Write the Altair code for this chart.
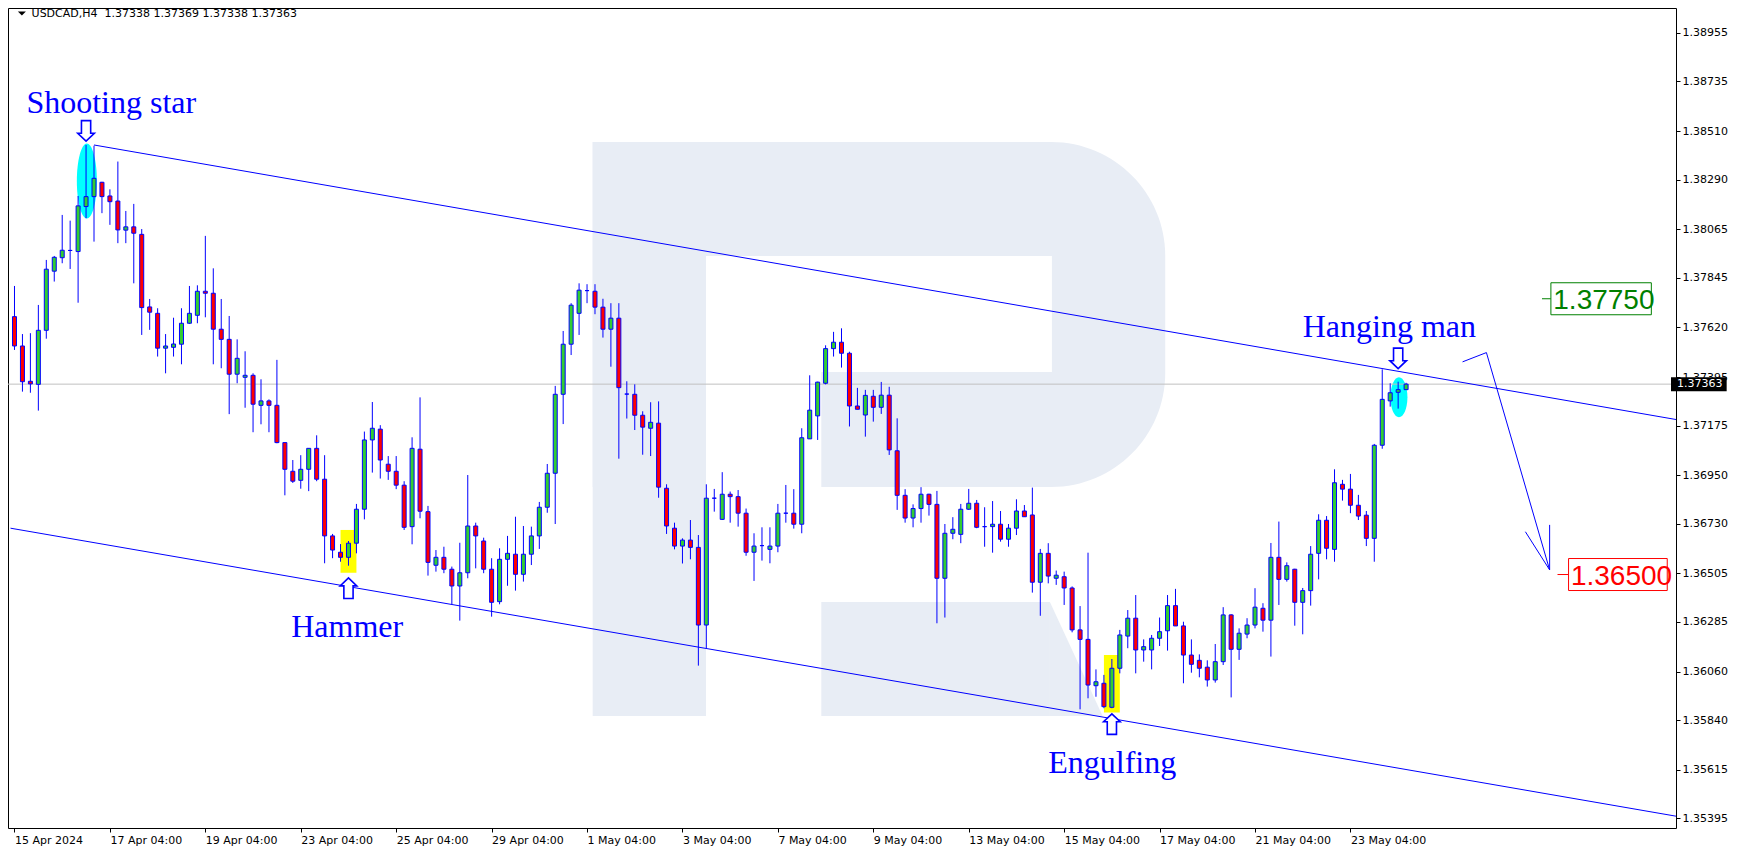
import altair as alt
import pandas as pd

# ---------------- data ----------------
symbol_title = "USDCAD,H4\u00a0\u00a01.37338 1.37369 1.37338 1.37363"

opens = [
    1.37669, 1.37536, 1.37376, 1.37362, 1.37607, 1.37875, 1.37936, 1.37969, 1.37964, 1.38168,
    1.38213, 1.38278, 1.38216, 1.38193, 1.38061, 1.38076, 1.38042, 1.37713, 1.37684, 1.37526,
    1.37530, 1.37544, 1.37639, 1.37675, 1.37784, 1.37775, 1.37612, 1.37566, 1.37408, 1.37394,
    1.37403, 1.37267, 1.37287, 1.37267, 1.37098, 1.36968, 1.36927, 1.36977, 1.37072, 1.36932,
    1.36675, 1.36601, 1.36578, 1.36642, 1.36796, 1.37110, 1.37159, 1.37000, 1.36968, 1.36905,
    1.36717, 1.37068, 1.36785, 1.36542, 1.36578, 1.36524, 1.36448, 1.36508, 1.36720, 1.36652,
    1.36524, 1.36377, 1.36569, 1.36592, 1.36501, 1.36592, 1.36675, 1.36805, 1.36959, 1.37317,
    1.37544, 1.37684, 1.37787, 1.37784, 1.37712, 1.37612, 1.37662, 1.37318, 1.37317, 1.37222,
    1.37163, 1.37186, 1.36891, 1.36710, 1.36629, 1.36656, 1.36623, 1.36271, 1.36846, 1.36750,
    1.36864, 1.36853, 1.36778, 1.36601, 1.36631, 1.36614, 1.36629, 1.36778, 1.36778, 1.36728,
    1.37115, 1.37219, 1.37367, 1.37524, 1.37553, 1.37503, 1.37264, 1.37223, 1.37308, 1.37258,
    1.37313, 1.37061, 1.36859, 1.36756, 1.36799, 1.36864, 1.36818, 1.36483, 1.36687, 1.36682,
    1.36796, 1.36823, 1.36717, 1.36717, 1.36728, 1.36660, 1.36710, 1.36788, 1.36770, 1.36465,
    1.36596, 1.36483, 1.36490, 1.36439, 1.36249, 1.36206, 1.35996, 1.36007, 1.35898, 1.36075,
    1.36221, 1.36302, 1.36158, 1.36158, 1.36211, 1.36245, 1.36359, 1.36267, 1.36135, 1.36111,
    1.36080, 1.36022, 1.36105, 1.36317, 1.36161, 1.36230, 1.36271, 1.36347, 1.36293, 1.36578,
    1.36478, 1.36524, 1.36374, 1.36427, 1.36596, 1.36746, 1.36614, 1.36909, 1.36887, 1.36814,
    1.36769, 1.36664, 1.37086, 1.37287, 1.37326, 1.37338,
]
highs = [
    1.37808, 1.37590, 1.37594, 1.37722, 1.37926, 1.37944, 1.38130, 1.38104, 1.38216, 1.38447,
    1.38444, 1.38280, 1.38246, 1.38372, 1.38148, 1.38180, 1.38066, 1.37749, 1.37707, 1.37590,
    1.37664, 1.37707, 1.37808, 1.37811, 1.38035, 1.37888, 1.37749, 1.37672, 1.37566, 1.37512,
    1.37412, 1.37385, 1.37294, 1.37473, 1.37098, 1.37019, 1.37041, 1.37072, 1.37131, 1.37041,
    1.36684, 1.36638, 1.36652, 1.36820, 1.37148, 1.37282, 1.37177, 1.37037, 1.37037, 1.36923,
    1.37122, 1.37303, 1.36811, 1.36611, 1.36626, 1.36536, 1.36644, 1.36951, 1.36735, 1.36667,
    1.36574, 1.36619, 1.36675, 1.36762, 1.36720, 1.36717, 1.36829, 1.37001, 1.37355, 1.37604,
    1.37730, 1.37820, 1.37816, 1.37816, 1.37750, 1.37730, 1.37730, 1.37376, 1.37362, 1.37240,
    1.37281, 1.37285, 1.36909, 1.36735, 1.36664, 1.36747, 1.36679, 1.36909, 1.36888, 1.36964,
    1.36876, 1.36883, 1.36799, 1.36687, 1.36714, 1.36714, 1.36820, 1.36906, 1.36887, 1.37163,
    1.37403, 1.37374, 1.37539, 1.37600, 1.37616, 1.37510, 1.37346, 1.37337, 1.37337, 1.37373,
    1.37351, 1.37208, 1.36887, 1.36818, 1.36896, 1.36866, 1.36879, 1.36729, 1.36760, 1.36820,
    1.36888, 1.36838, 1.36805, 1.36833, 1.36788, 1.36729, 1.36841, 1.36815, 1.36894, 1.36616,
    1.36642, 1.36518, 1.36513, 1.36446, 1.36357, 1.36599, 1.36070, 1.36045, 1.36117, 1.36249,
    1.36339, 1.36407, 1.36206, 1.36226, 1.36305, 1.36407, 1.36435, 1.36286, 1.36206, 1.36138,
    1.36111, 1.36185, 1.36352, 1.36320, 1.36256, 1.36302, 1.36438, 1.36370, 1.36643, 1.36740,
    1.36555, 1.36526, 1.36439, 1.36629, 1.36773, 1.36765, 1.36977, 1.36929, 1.36956, 1.36861,
    1.36788, 1.37092, 1.37430, 1.37367, 1.37374, 1.37369,
]
lows = [
    1.37518, 1.37329, 1.37324, 1.37243, 1.37569, 1.37828, 1.37911, 1.37885, 1.37732, 1.38115,
    1.38009, 1.38138, 1.38085, 1.38002, 1.38002, 1.37820, 1.37586, 1.37609, 1.37488, 1.37412,
    1.37488, 1.37453, 1.37636, 1.37639, 1.37666, 1.37453, 1.37435, 1.37227, 1.37367, 1.37256,
    1.37145, 1.37181, 1.37145, 1.37095, 1.36859, 1.36915, 1.36889, 1.36878, 1.36923, 1.36551,
    1.36574, 1.36558, 1.36540, 1.36596, 1.36750, 1.36962, 1.36935, 1.36929, 1.36887, 1.36702,
    1.36637, 1.36755, 1.36495, 1.36513, 1.36506, 1.36365, 1.36291, 1.36483, 1.36528, 1.36506,
    1.36309, 1.36365, 1.36449, 1.36427, 1.36468, 1.36543, 1.36616, 1.36780, 1.36729, 1.37182,
    1.37495, 1.37586, 1.37730, 1.37680, 1.37574, 1.37442, 1.37025, 1.37207, 1.37155, 1.37043,
    1.37037, 1.36848, 1.36684, 1.36614, 1.36550, 1.36569, 1.36087, 1.36166, 1.36785, 1.36747,
    1.36735, 1.36717, 1.36585, 1.36471, 1.36563, 1.36551, 1.36601, 1.36735, 1.36708, 1.36687,
    1.37115, 1.37110, 1.37362, 1.37488, 1.37438, 1.37171, 1.37249, 1.37125, 1.37193, 1.37228,
    1.37042, 1.36793, 1.36735, 1.36714, 1.36735, 1.36767, 1.36279, 1.36305, 1.36660, 1.36642,
    1.36793, 1.36710, 1.36626, 1.36599, 1.36649, 1.36626, 1.36679, 1.36762, 1.36418, 1.36313,
    1.36460, 1.36453, 1.36362, 1.36238, 1.35889, 1.35939, 1.35946, 1.35894, 1.35894, 1.36052,
    1.36166, 1.36052, 1.36105, 1.36070, 1.36176, 1.36155, 1.36267, 1.36007, 1.36055, 1.36034,
    1.35992, 1.36010, 1.36090, 1.35943, 1.36113, 1.36211, 1.36256, 1.36241, 1.36128, 1.36362,
    1.36468, 1.36268, 1.36229, 1.36359, 1.36478, 1.36569, 1.36558, 1.36835, 1.36778, 1.36747,
    1.36629, 1.36558, 1.37070, 1.37261, 1.37252, 1.37338,
]
closes = [
    1.37536, 1.37374, 1.37364, 1.37607, 1.37884, 1.37938, 1.37970, 1.37969, 1.38171, 1.38213,
    1.38296, 1.38213, 1.38190, 1.38062, 1.38076, 1.38047, 1.37710, 1.37689, 1.37526, 1.37536,
    1.37545, 1.37639, 1.37684, 1.37784, 1.37775, 1.37612, 1.37566, 1.37408, 1.37480, 1.37403,
    1.37272, 1.37287, 1.37267, 1.37098, 1.36977, 1.36923, 1.36977, 1.37072, 1.36932, 1.36675,
    1.36611, 1.36578, 1.36642, 1.36796, 1.37110, 1.37163, 1.37019, 1.36968, 1.36905, 1.36714,
    1.37072, 1.36787, 1.36555, 1.36578, 1.36524, 1.36448, 1.36508, 1.36720, 1.36675, 1.36524,
    1.36374, 1.36569, 1.36596, 1.36501, 1.36592, 1.36675, 1.36805, 1.36959, 1.37317, 1.37544,
    1.37721, 1.37789, 1.37787, 1.37712, 1.37612, 1.37662, 1.37347, 1.37318, 1.37222, 1.37168,
    1.37190, 1.36896, 1.36720, 1.36629, 1.36656, 1.36623, 1.36271, 1.36846, 1.36846, 1.36864,
    1.36853, 1.36778, 1.36601, 1.36629, 1.36631, 1.36629, 1.36778, 1.36778, 1.36728, 1.37120,
    1.37245, 1.37372, 1.37524, 1.37553, 1.37503, 1.37264, 1.37249, 1.37312, 1.37258, 1.37313,
    1.37065, 1.36859, 1.36756, 1.36799, 1.36864, 1.36818, 1.36483, 1.36687, 1.36705, 1.36796,
    1.36823, 1.36714, 1.36717, 1.36728, 1.36660, 1.36710, 1.36788, 1.36762, 1.36465, 1.36596,
    1.36493, 1.36497, 1.36439, 1.36249, 1.36206, 1.35999, 1.36014, 1.35901, 1.36075, 1.36226,
    1.36302, 1.36158, 1.36173, 1.36211, 1.36241, 1.36359, 1.36267, 1.36135, 1.36093, 1.36075,
    1.36022, 1.36105, 1.36317, 1.36161, 1.36234, 1.36271, 1.36352, 1.36293, 1.36578, 1.36478,
    1.36540, 1.36374, 1.36427, 1.36592, 1.36746, 1.36619, 1.36916, 1.36887, 1.36814, 1.36765,
    1.36664, 1.37086, 1.37294, 1.37324, 1.37338, 1.37363,
]

x_tick_bars = [0, 12, 24, 36, 48, 60, 72, 84, 96, 108, 120, 132, 144, 156, 168]
x_tick_labels = ["15 Apr 2024", "17 Apr 04:00", "19 Apr 04:00", "23 Apr 04:00", "25 Apr 04:00",
                 "29 Apr 04:00", "1 May 04:00", "3 May 04:00", "7 May 04:00", "9 May 04:00",
                 "13 May 04:00", "15 May 04:00", "17 May 04:00", "21 May 04:00", "23 May 04:00"]
y_tick_values = [1.38955, 1.38735, 1.38510, 1.38290, 1.38065, 1.37845, 1.37620, 1.37395, 1.37175,
                 1.36950, 1.36730, 1.36505, 1.36285, 1.36060, 1.35840, 1.35615, 1.35395]

current_price = 1.37363

# channel and forecast drawings (bar index, price)
upper_channel_bars = [10, 210]
upper_channel_prices = [1.38447, 1.37196]
lower_channel_bars = [-0.5, 210]
lower_channel_prices = [1.36710, 1.35398]
forecast_bars = [182.1, 185.1, 193.05]
forecast_prices = [1.37464, 1.37506, 1.36521]
arrowhead_bars = [190.0, 193.05, 193.05]
arrowhead_prices = [1.36694, 1.36521, 1.36725]

# target levels
level_values = [1.37750, 1.36500]
level_box_start = [193.21, 195.43]
level_box_end = [205.84, 207.84]
level_tick_start = [192.09, 194.04]
level_colors = ["#008000", "#FF0000"]

# pattern annotations
pattern_names = ["Shooting star", "Hammer", "Engulfing", "Hanging man"]
pattern_label_bars = [1.5, 34.8, 130.0, 162.0]
pattern_label_prices = [1.38592, 1.36216, 1.35601, 1.37578]
down_arrow_bars = [9, 174]
down_arrow_prices = [1.38511, 1.37480]
up_arrow_bars = [42, 138]
up_arrow_prices = [1.36438, 1.35822]
highlight_bar_from = [41, 137]
highlight_bar_to = [43, 139]
highlight_price_top = [1.36702, 1.36135]
highlight_price_bottom = [1.36508, 1.35874]
ellipse_bars = [9.1, 174.1]
ellipse_prices = [1.38284, 1.37304]

# ---------------- styling / scales ----------------
BLUE = "#0000FF"
BULL = "#32CD32"
BEAR = "#FF0000"
WM = "#E8EDF5"
PLOT_W, PLOT_H = 1668, 820
X_MIN, X_MAX = -0.1875, 208.3125
Y_MIN, Y_MAX = 1.35351, 1.39068
PX_PRICE = (Y_MAX - Y_MIN) / PLOT_H

xs = alt.Scale(domain=[X_MIN, X_MAX], nice=False, zero=False)
ys = alt.Scale(domain=[Y_MIN, Y_MAX], nice=False, zero=False)

labels_js = "[" + ",".join("'" + s + "'" for s in x_tick_labels) + "]"
ticks_js = "[" + ",".join(str(v) for v in x_tick_bars) + "]"

x_axis = alt.Axis(values=x_tick_bars, labelExpr=f"{labels_js}[indexof({ticks_js}, datum.value)]",
                  orient="bottom", domain=False, grid=False, ticks=True, tickSize=4,
                  tickColor="black", labelAlign="left", labelBaseline="top", labelPadding=2,
                  labelFont="DejaVu Sans", labelFontSize=11, labelColor="black",
                  labelFlush=False, labelOverlap=False, title=None)
y_axis = alt.Axis(values=y_tick_values, format=".5f", orient="right", domain=False, grid=False,
                  ticks=True, tickSize=4, tickColor="black", labelPadding=2,
                  labelFont="DejaVu Sans", labelFontSize=11, labelColor="black",
                  labelFlush=False, labelOverlap=False, title=None)


def ex(f):
    return alt.X(f, type="quantitative", scale=xs, axis=x_axis, title=None)


def ey(f):
    return alt.Y(f, type="quantitative", scale=ys, axis=y_axis, title=None)


def frame(**cols):
    return pd.DataFrame({k: (v if isinstance(v, list) else [v]) for k, v in cols.items()})


df = pd.DataFrame({"bar": list(range(len(opens))), "open": opens, "high": highs,
                   "low": lows, "close": closes})
df["dir"] = ["up" if c >= o else "down" for o, c in zip(opens, closes)]

# ---------------- watermark "R" ----------------
def wm_rect(x1, x2, y1, y2, color, **kw):
    return alt.Chart(frame(a=x1, b=x2, c=y1, d=y2)).mark_rect(color=color, **kw).encode(
        x=ex("a"), x2="b", y=ey("c"), y2="d")

wm_bowl = wm_rect(72.71, 144.71, 1.38461, 1.36897, WM,
                  cornerRadiusTopRight=114, cornerRadiusBottomRight=114)
wm_stem = wm_rect(72.71, 86.96, 1.38461, 1.35859, WM)
wm_hole = wm_rect(86.96, 130.46, 1.37944, 1.37418, "white")
wm_gap = wm_rect(86.96, 101.46, 1.37418, 1.36897, "white")
wm_leg = wm_rect(101.46, 130.21, 1.36376, 1.35859, WM)
wm_leg_tri = alt.Chart(frame(a=[130.21, 136.84], c=[1.36376, 1.35859], d=[1.35859, 1.35859])).mark_area(
    color=WM, opacity=1).encode(x=ex("a"), y=ey("c"), y2="d")

# ---------------- highlights ----------------
hl = alt.Chart(frame(a=highlight_bar_from, b=highlight_bar_to, c=highlight_price_top,
                     d=highlight_price_bottom)).mark_rect(color="#FFFF00").encode(
    x=ex("a"), x2="b", y=ey("c"), y2="d")


def ellipse_path(rx):
    k = 0.5523
    return (f"M 0 -1 C {k*rx:.3f} -1 {rx:.3f} {-k:.3f} {rx:.3f} 0 "
            f"C {rx:.3f} {k:.3f} {k*rx:.3f} 1 0 1 "
            f"C {-k*rx:.3f} 1 {-rx:.3f} {k:.3f} {-rx:.3f} 0 "
            f"C {-rx:.3f} {-k:.3f} {-k*rx:.3f} -1 0 -1 Z")

ell1 = alt.Chart(frame(a=ellipse_bars[0], c=ellipse_prices[0])).mark_point(
    shape=ellipse_path(0.267), size=5625, filled=True, fill="#00FFFF", strokeWidth=0, opacity=1
).encode(x=ex("a"), y=ey("c"))
ell2 = alt.Chart(frame(a=ellipse_bars[1], c=ellipse_prices[1])).mark_point(
    shape=ellipse_path(0.425), size=1600, filled=True, fill="#00FFFF", strokeWidth=0, opacity=1
).encode(x=ex("a"), y=ey("c"))

# ---------------- lines ----------------
price_line = alt.Chart(frame(p=current_price)).mark_rule(color="#C0C0C0", strokeWidth=1).encode(
    y=ey("p"))

line_rows = []
for name, bars, prices in [("upper", upper_channel_bars, upper_channel_prices),
                           ("lower", lower_channel_bars, lower_channel_prices),
                           ("forecast", forecast_bars, forecast_prices),
                           ("head", arrowhead_bars, arrowhead_prices)]:
    for i, (b, p) in enumerate(zip(bars, prices)):
        line_rows.append({"name": name, "seq": i, "bar": b, "price": p})
lines = alt.Chart(pd.DataFrame(line_rows)).mark_line(color=BLUE, strokeWidth=1, clip=True).encode(
    x=ex("bar"), y=ey("price"), detail="name:N", order="seq:Q")

# ---------------- candles ----------------
wicks = alt.Chart(df).mark_rule(color=BLUE, strokeWidth=1, clip=True).encode(
    x=ex("bar"), y=ey("low"), y2="high")
bodies = alt.Chart(df).mark_bar(size=4, stroke=BLUE, strokeWidth=1, clip=True).encode(
    x=ex("bar"), y=ey("open"), y2="close",
    color=alt.Color("dir:N", scale=alt.Scale(domain=["up", "down"], range=[BULL, BEAR]), legend=None))

# ---------------- target levels (fixed colours, one chart per level) ----------------
level_layers = []
for lvl, b0, b1, t0, col in zip(level_values, level_box_start, level_box_end,
                                level_tick_start, level_colors):
    d = frame(lvl=lvl, b0=b0, b1=b1, t0=t0,
              top=lvl + 16 * PX_PRICE, bot=lvl - 16 * PX_PRICE,
              base=lvl - 10.5 * PX_PRICE, tx=b0 + 0.3, label=f"{lvl:.5f}")
    level_layers.append(alt.Chart(d).mark_rule(color=col, strokeWidth=1).encode(
        x=ex("t0"), x2="b0", y=ey("lvl")))
    level_layers.append(alt.Chart(d).mark_rect(fill="white", stroke=col, strokeWidth=1).encode(
        x=ex("b0"), x2="b1", y=ey("top"), y2="bot"))
    level_layers.append(alt.Chart(d).mark_text(font="Liberation Sans", fontSize=28, align="left",
                                               baseline="alphabetic", color=col).encode(
        x=ex("tx"), y=ey("base"), text="label:N"))

# ---------------- pattern annotations ----------------
pat = pd.DataFrame({"name": pattern_names, "bar": pattern_label_bars, "price": pattern_label_prices})
pat_text = alt.Chart(pat).mark_text(font="Liberation Serif", fontSize=32, align="left",
                                    baseline="alphabetic", color=BLUE).encode(
    x=ex("bar"), y=ey("price"), text="name:N")

ARROW_DOWN = "M -0.45 -1 L 0.45 -1 L 0.45 0.23 L 0.81 0.23 L 0 1 L -0.81 0.23 L -0.45 0.23 Z"
ARROW_UP = "M -0.45 1 L 0.45 1 L 0.45 -0.23 L 0.81 -0.23 L 0 -1 L -0.81 -0.23 L -0.45 -0.23 Z"
arr_down = alt.Chart(frame(a=down_arrow_bars, c=down_arrow_prices)).mark_point(
    shape=ARROW_DOWN, size=420, filled=True, fill="white", stroke=BLUE, strokeWidth=1.6,
    opacity=1, fillOpacity=1).encode(x=ex("a"), y=ey("c"))
arr_up = alt.Chart(frame(a=up_arrow_bars, c=up_arrow_prices)).mark_point(
    shape=ARROW_UP, size=420, filled=True, fill="white", stroke=BLUE, strokeWidth=1.6,
    opacity=1, fillOpacity=1).encode(x=ex("a"), y=ey("c"))

# ---------------- header ----------------
TITLE_PRICE = Y_MAX - 5.5 * PX_PRICE
title_tri = alt.Chart(frame(a=0.93, c=TITLE_PRICE)).mark_point(
    shape="M -1 -0.5 L 1 -0.5 L 0 0.5 Z", size=64, filled=True, fill="black", strokeWidth=0,
    opacity=1).encode(x=ex("a"), y=ey("c"))
title_txt = alt.Chart(frame(a=2.15, c=TITLE_PRICE, t=symbol_title)).mark_text(
    font="DejaVu Sans", fontSize=11, align="left", baseline="middle", color="black").encode(
    x=ex("a"), y=ey("c"), text="t:N")

# ---------------- current price tag on the axis ----------------
tag_box = alt.Chart(frame(a=X_MAX, b=X_MAX + 7.0, c=current_price + 7 * PX_PRICE,
                          d=current_price - 7 * PX_PRICE)).mark_rect(color="black").encode(
    x=ex("a"), x2="b", y=ey("c"), y2="d")
tag_txt = alt.Chart(frame(a=X_MAX + 0.75, c=current_price, t=f"{current_price:.5f}")).mark_text(
    font="DejaVu Sans", fontSize=11, align="left", baseline="middle", color="white").encode(
    x=ex("a"), y=ey("c"), text="t:N")

chart = alt.layer(
    wm_bowl, wm_hole, wm_gap, wm_stem, wm_leg, wm_leg_tri,
    hl, ell1, ell2, price_line, lines,
    wicks, bodies,
    *level_layers,
    pat_text, arr_down, arr_up,
    title_tri, title_txt, tag_box, tag_txt,
).properties(
    width=PLOT_W, height=PLOT_H,
    padding={"left": 0, "top": 0, "right": 60, "bottom": 18},
    autosize=alt.AutoSizeParams(type="none"),
    background="white",
).configure_view(stroke="black", strokeWidth=1)

chart.save("out.html", embed_options={"renderer": "svg", "actions": False})
